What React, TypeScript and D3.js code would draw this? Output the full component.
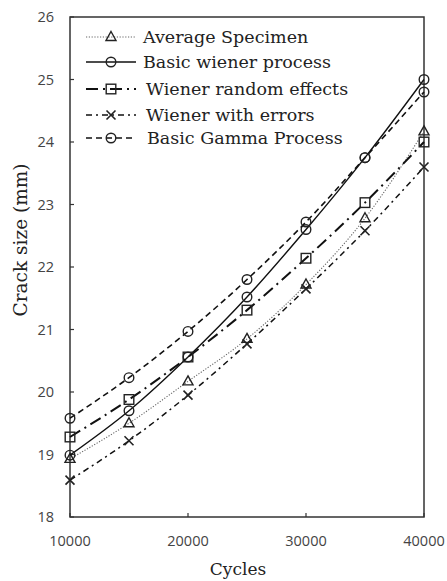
import React from "react";
import * as d3 from "d3";

const cycles = [10000, 15000, 20000, 25000, 30000, 35000, 40000];
const averageSpecimen = [18.93, 19.5, 20.17, 20.85, 21.72, 22.78, 24.17];
const basicWiener = [18.99, 19.7, 20.56, 21.52, 22.6, 23.75, 25.0];
const wienerRandom = [19.28, 19.88, 20.56, 21.31, 22.14, 23.03, 24.0];
const wienerErrors = [18.59, 19.22, 19.95, 20.77, 21.65, 22.58, 23.6];
const basicGamma = [19.58, 20.23, 20.97, 21.8, 22.72, 23.75, 24.8];
const xTicks = [10000, 20000, 30000, 40000];
const yTicks = [18, 19, 20, 21, 22, 23, 24, 25, 26];
const seriesNames = [
  "Average Specimen",
  "Basic wiener process",
  "Wiener random effects",
  "Wiener with errors",
  "Basic Gamma Process",
];

const W = 447, H = 581;
const L = 70, R = 424, T = 17, B = 517;

type S = { name: string; values: number[]; dash: string; width: number; color: string; marker: string };

export default function App() {
  const x = d3.scaleLinear().domain([10000, 40000]).range([L, R]);
  const y = d3.scaleLinear().domain([18, 26]).range([B, T]);
  const series: S[] = [
    { name: seriesNames[0], values: averageSpecimen, dash: "1.2,1.6", width: 1.1, color: "#666", marker: "tri" },
    { name: seriesNames[1], values: basicWiener, dash: "", width: 1.4, color: "#111", marker: "circ" },
    { name: seriesNames[2], values: wienerRandom, dash: "12,5,2,5", width: 2, color: "#111", marker: "sq" },
    { name: seriesNames[3], values: wienerErrors, dash: "6,4,2,4", width: 1.5, color: "#111", marker: "x" },
    { name: seriesNames[4], values: basicGamma, dash: "6,4", width: 1.6, color: "#111", marker: "circ" },
  ];
  const line = d3.line<number>().x((_, i) => x(cycles[i])).y((v) => y(v)).curve(d3.curveMonotoneX);

  const marker = (type: string, cx: number, cy: number, key: string) => {
    const st = { fill: "none", stroke: "#222", strokeWidth: 1.4 };
    if (type === "circ") return <circle key={key} cx={cx} cy={cy} r={4.8} {...st} />;
    if (type === "sq") return <rect key={key} x={cx - 4.8} y={cy - 4.8} width={9.6} height={9.6} {...st} />;
    if (type === "tri") return <path key={key} d={`M${cx},${cy - 5.5}L${cx + 5},${cy + 3.5}L${cx - 5},${cy + 3.5}Z`} {...st} />;
    return <path key={key} d={`M${cx - 4.5},${cy - 4.5}L${cx + 4.5},${cy + 4.5}M${cx + 4.5},${cy - 4.5}L${cx - 4.5},${cy + 4.5}`} {...st} strokeWidth={1.6} />;
  };

  const legendY = [37, 62, 89, 115, 138];
  const legendTextX = [143, 143, 146, 146, 147];

  return (
    <svg width={W} height={H} style={{ position: "absolute", left: 0, top: 0, background: "#fff" }}>
      <rect x={L} y={T} width={R - L} height={B - T} fill="none" stroke="#333" strokeWidth={1.5} />
      {yTicks.map((t) => (
        <g key={"y" + t}>
          <line x1={L} x2={L + 4} y1={y(t)} y2={y(t)} stroke="#333" strokeWidth={1.2} />
          <text x={L - 16} y={y(t)} dy="0.35em" textAnchor="end" fontFamily="Open Sans" fontSize={14.5} fill="#444">{t}</text>
        </g>
      ))}
      {xTicks.map((t) => (
        <g key={"x" + t}>
          <line x1={x(t)} x2={x(t)} y1={B} y2={B - 4} stroke="#333" strokeWidth={1.2} />
          <text x={x(t)} y={546} textAnchor="middle" fontFamily="Open Sans" fontSize={14.5} fill="#444">{t}</text>
        </g>
      ))}
      <text x={238} y={575} textAnchor="middle" fontFamily="DejaVu Serif" fontSize={17} fill="#222">Cycles</text>
      <text transform={`translate(27,240) rotate(-90)`} textAnchor="middle" fontFamily="DejaVu Serif" fontSize={18.5} fill="#222">Crack size (mm)</text>

      {series.map((s) => (
        <g key={s.name}>
          <path d={line(s.values) || ""} fill="none" stroke={s.color} strokeWidth={s.width} strokeDasharray={s.dash} />
          {s.values.map((v, i) => marker(s.marker, x(cycles[i]), y(v), s.name + i))}
        </g>
      ))}

      {series.map((s, i) => (
        <g key={"lg" + i}>
          <line x1={86} x2={136} y1={legendY[i]} y2={legendY[i]} stroke={s.color} strokeWidth={s.width} strokeDasharray={s.dash} />
          {marker(s.marker, 111, legendY[i], "lm" + i)}
          <text x={legendTextX[i]} y={legendY[i]} dy="0.35em" fontFamily="DejaVu Serif" fontSize={17.5} fill="#222">{s.name}</text>
        </g>
      ))}
    </svg>
  );
}
